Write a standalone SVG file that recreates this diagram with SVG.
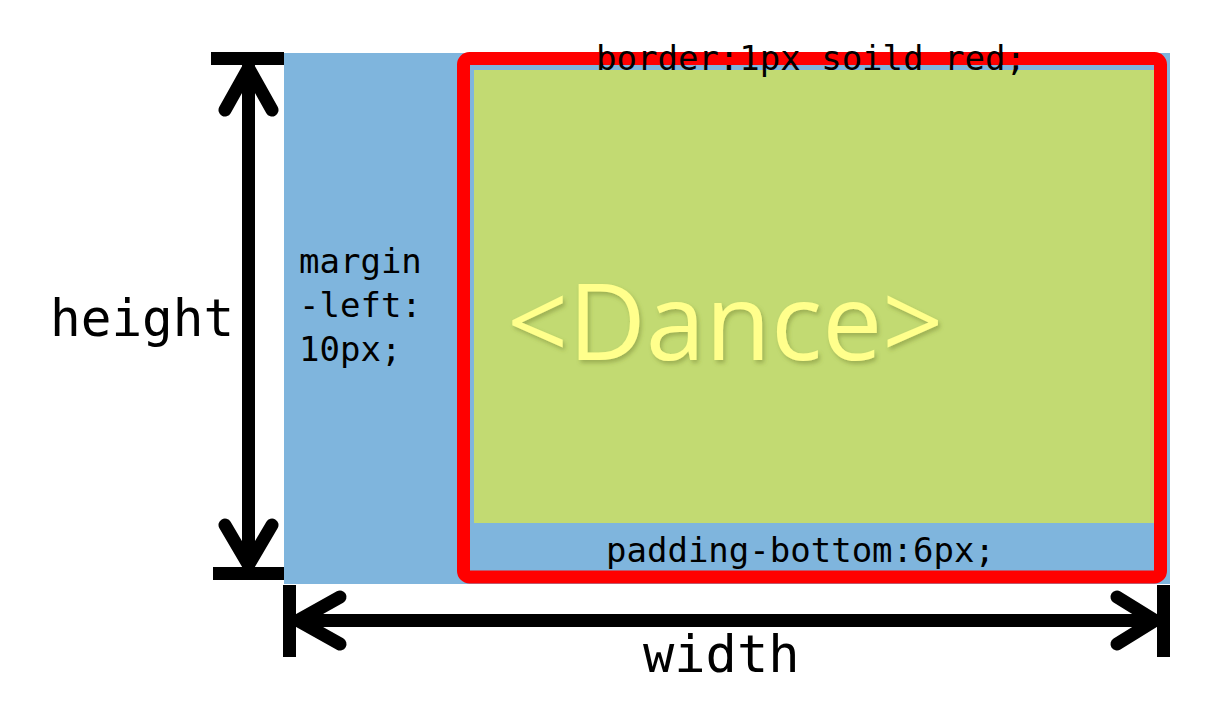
<svg xmlns="http://www.w3.org/2000/svg" width="1228" height="721" viewBox="0 0 1228 721">
  <style>
    .mono { font-family: "DejaVu Sans Mono", "Liberation Mono", monospace; fill: #000; }
    .arrow { stroke: #000; stroke-width: 13; fill: none; stroke-linecap: round; stroke-linejoin: round; }
    .bar { fill: #000; }
  </style>
  <defs>
    <filter id="shadow" x="-10%" y="-10%" width="120%" height="130%">
      <feDropShadow dx="2" dy="3" stdDeviation="2" flood-color="#6f7d2a" flood-opacity="0.45"/>
    </filter>
  </defs>
  <rect width="1228" height="721" fill="#ffffff"/>

  <g id="margin-box">
    <rect x="284" y="53" width="886" height="531" fill="#7fb5dd"/>
    <text class="mono" x="299" y="273" font-size="34">margin</text>
    <text class="mono" x="299" y="317" font-size="34">-left:</text>
    <text class="mono" x="299" y="361" font-size="34">10px;</text>
  </g>

  <g id="content-box">
    <rect x="474" y="70" width="680" height="453" fill="#c2da72"/>
    <text x="507" y="360" font-family="'Open Sans', 'Noto Sans', sans-serif" font-size="107" fill="#ffff8c" filter="url(#shadow)">&lt;Dance&gt;</text>
  </g>

  <g id="border-box">
    <rect x="463.5" y="58.5" width="697" height="518.5" rx="6" ry="6" fill="none" stroke="#ff0000" stroke-width="13"/>
    <text class="mono" x="596" y="70" font-size="34">border:1px soild red;</text>
  </g>

  <g id="padding-label">
    <text class="mono" x="606" y="562" font-size="34">padding-bottom:6px;</text>
  </g>

  <g id="connectors">
    <!-- height arrow -->
    <rect class="bar" x="211" y="52" width="73" height="13"/>
    <rect class="bar" x="213" y="567" width="71" height="13"/>
    <line class="arrow" x1="248.5" y1="66" x2="248.5" y2="566" stroke-linecap="butt"/>
    <polyline class="arrow" points="225,110 248.5,68 272,110"/>
    <polyline class="arrow" points="225,525 248.5,565 272,525"/>
    <!-- width arrow -->
    <rect class="bar" x="283" y="585" width="13" height="72"/>
    <rect class="bar" x="1157" y="585" width="13" height="72"/>
    <line class="arrow" x1="296" y1="620.5" x2="1157" y2="620.5" stroke-linecap="butt"/>
    <polyline class="arrow" points="340,597 298,620.5 340,644"/>
    <polyline class="arrow" points="1117,597 1155,620.5 1117,644"/>
  </g>

  <g id="labels">
    <text class="mono" x="50" y="336" font-size="51">height</text>
    <text class="mono" x="643" y="672" font-size="52">width</text>
  </g>
</svg>
